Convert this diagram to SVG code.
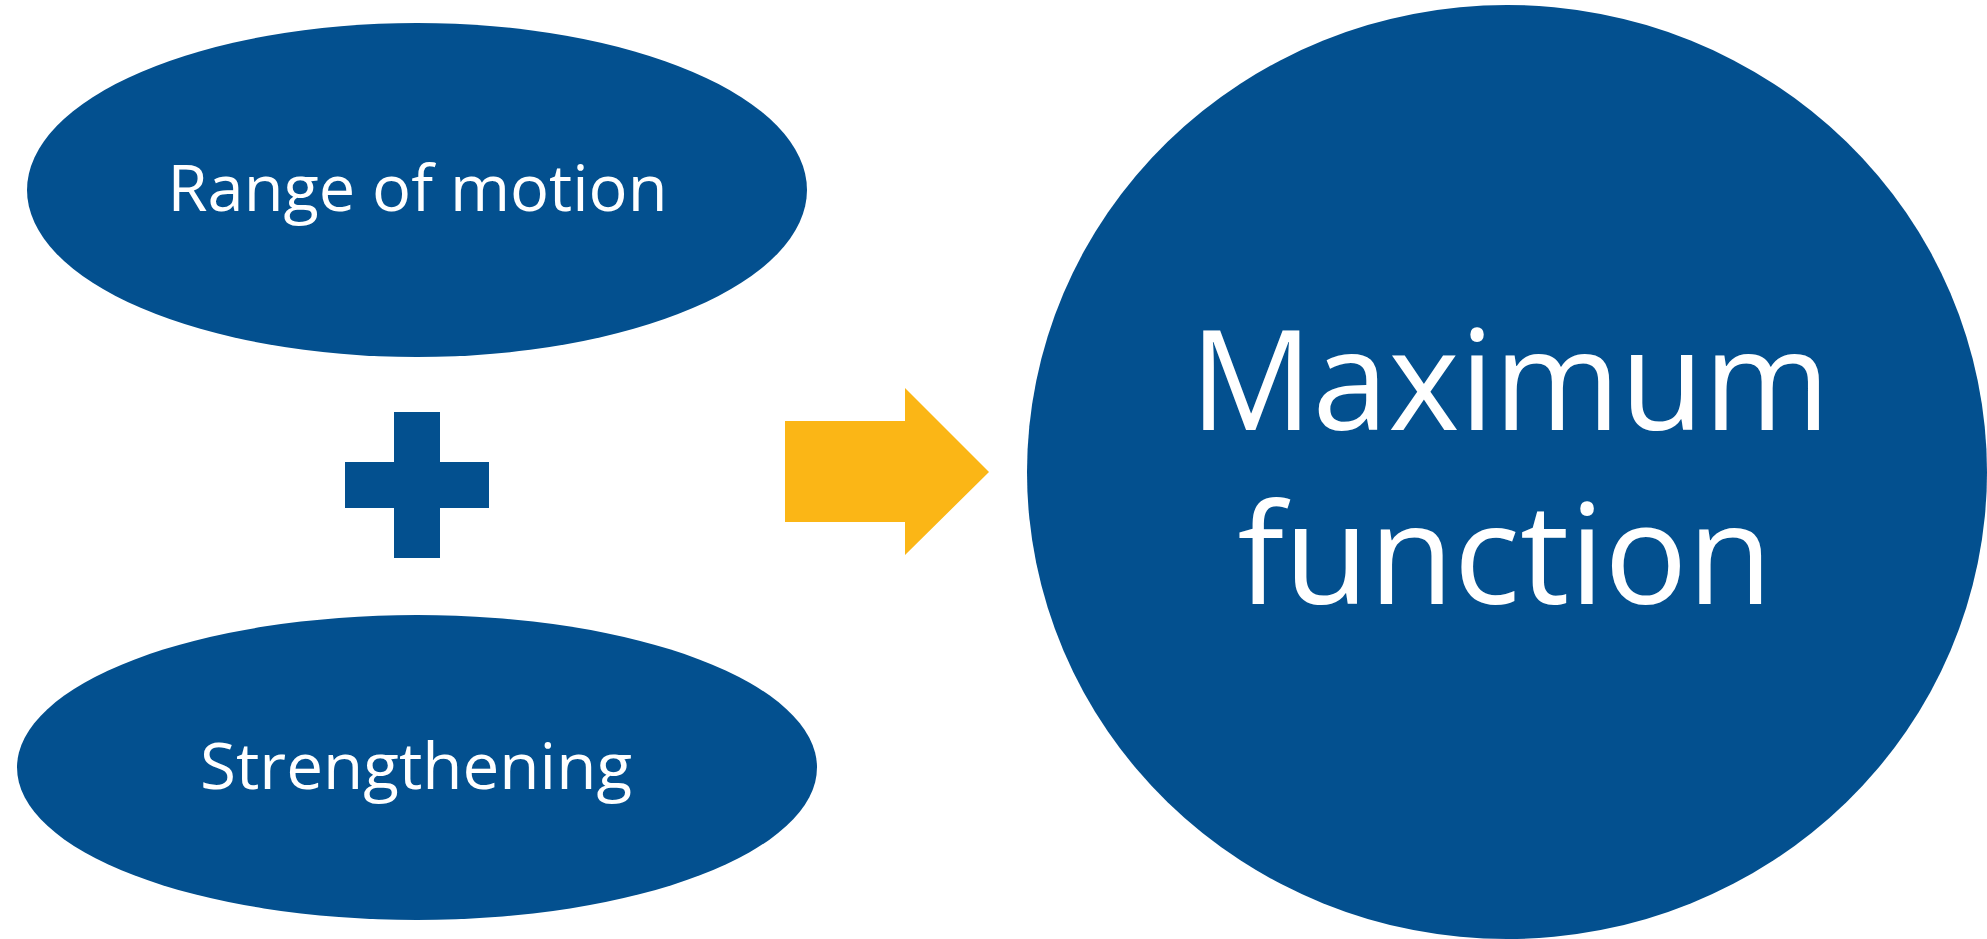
<svg xmlns="http://www.w3.org/2000/svg" width="1987" height="939" viewBox="0 0 1987 939">
  <style>
    .node { fill: #03508F; }
    .lbl { fill: #FFFFFF; font-family: "Open Sans", "Liberation Sans", sans-serif; text-anchor: middle; }
    .small { font-size: 64px; }
    .big { font-size: 140px; }
    .plus { fill: #03508F; }
    .arrow { fill: #FBB616; }
  </style>
  <rect width="1987" height="939" fill="#FFFFFF"/>
  <g id="node-range-of-motion">
    <ellipse class="node" cx="417" cy="190" rx="390" ry="167"/>
    <text class="lbl small" x="417.5" y="211" textLength="500" lengthAdjust="spacingAndGlyphs">Range of motion</text>
  </g>
  <g id="node-strengthening">
    <ellipse class="node" cx="417" cy="767.5" rx="400" ry="152.5"/>
    <text class="lbl small" x="416" y="789" textLength="432" lengthAdjust="spacingAndGlyphs">Strengthening</text>
  </g>
  <g id="plus-sign">
    <rect class="plus" x="394" y="412" width="46" height="146"/>
    <rect class="plus" x="345" y="462" width="144" height="46"/>
  </g>
  <g id="node-maximum-function">
    <ellipse class="node" cx="1507" cy="472" rx="480" ry="467"/>
    <text class="lbl big" x="1510" y="430" textLength="640" lengthAdjust="spacingAndGlyphs">Maximum</text>
    <text class="lbl big" x="1505" y="604" textLength="535" lengthAdjust="spacingAndGlyphs">function</text>
  </g>
  <g id="connectors">
    <polygon class="arrow" points="785,421 905,421 905,388 989,472 905,555 905,522 785,522"/>
  </g>
</svg>
